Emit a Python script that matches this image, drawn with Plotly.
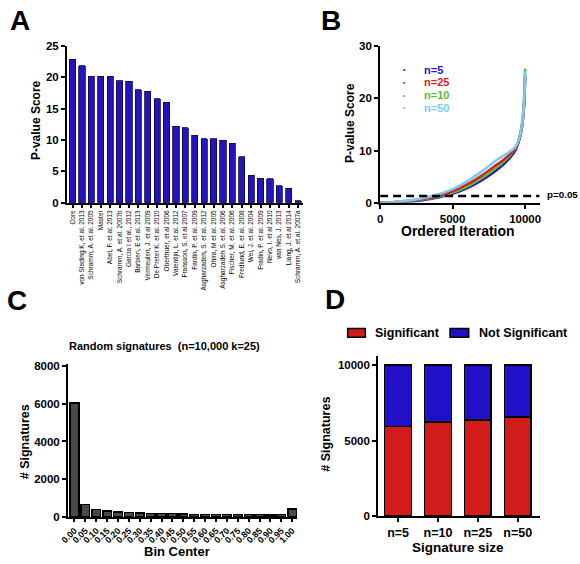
import plotly.graph_objects as go

W, H = 580, 564
def px(x): return x / W
def py(y): return 1 - y / H

FONT = "Arial, 'Liberation Sans', sans-serif"

# ---------------- Panel A data ----------------
studies = ["Core", "von Steding K, et al. 2013", "Schramm, A. et al. 2005", "Master",
           "Abel, F. et al. 2013", "Schramm, A. et al. 2007b", "Garcia I et al., 2012",
           "Barbieri, E et al. 2013", "Vermeulen, J. et al 2009", "De Preter K. et al. 2010",
           "Oberthuer, et al 2006", "Valentijn, L. et al. 2012", "Fransson, S. et al 2007",
           "Fardin, P. et al. 2009", "Asgharzadeh, S. et al. 2012", "Ohira, M et al. 2005",
           "Asgharzadeh S. et al. 2006", "Fischer, M. et al. 2006", "Fredlund, E. et al. 2008",
           "Wei, J. et al. 2004", "Fradin, P. et al. 2009", "Nevo, I. et al 2010",
           "van Nes, J. 2013", "Liang, J. et al 2014", "Schramm, A. et al. 2007a"]
study_scores = [22.9, 21.9, 20.2, 20.2, 20.2, 19.5, 19.4, 18.0, 17.8, 16.6, 16.0, 12.2, 12.0,
                10.8, 10.2, 10.2, 10.0, 9.5, 7.3, 4.4, 3.9, 3.8, 2.7, 2.3, 0.3]

# ---------------- Panel B data ----------------
b_iter = [0, 1000, 2000, 3000, 4000, 5000, 6000, 7000, 8000, 8500, 9000, 9300, 9500,
          9700, 9850, 9950, 10000]
b_n5 = [0, 0.1, 0.25, 0.55, 1.0, 1.7, 2.8, 4.3, 6.2, 7.3, 8.8, 9.9, 11.2, 13.2, 16.0, 20.0, 24.5]
b_n25 = [0, 0.12, 0.35, 0.75, 1.3, 2.2, 3.5, 5.2, 7.2, 8.2, 9.4, 10.3, 11.4, 13.3, 16.0, 20.0, 24.0]
b_n10 = [0, 0.1, 0.3, 0.65, 1.15, 1.9, 3.1, 4.7, 6.7, 7.8, 9.2, 10.3, 11.6, 13.8, 16.8, 21.0, 25.7]
b_n50 = [0, 0.15, 0.45, 0.9, 1.6, 2.6, 4.1, 6.0, 8.1, 9.0, 9.9, 10.6, 11.6, 13.5, 16.3, 20.5, 25.2]
p_threshold = 1.3

# ---------------- Panel C data ----------------
bin_centers = [0.00, 0.05, 0.10, 0.15, 0.20, 0.25, 0.30, 0.35, 0.40, 0.45, 0.50,
               0.55, 0.60, 0.65, 0.70, 0.75, 0.80, 0.85, 0.90, 0.95, 1.00]
bin_labels = ["0.00", "0.05", "0.10", "0.15", "0.20", "0.25", "0.30", "0.35", "0.40", "0.45",
              "0.50", "0.55", "0.60", "0.65", "0.70", "0.75", "0.80", "0.85", "0.90", "0.95", "1.00"]
bin_counts = [6050, 650, 380, 310, 250, 240, 200, 170, 180, 170, 160,
              140, 130, 130, 130, 130, 120, 130, 100, 140, 420]

# ---------------- Panel D data ----------------
sig_sizes = ["n=5", "n=10", "n=25", "n=50"]
significant = [5920, 6230, 6360, 6560]
not_significant = [4080, 3770, 3640, 3440]

fig = go.Figure()

# Panel A
fig.add_trace(go.Bar(x=studies, y=study_scores, xaxis="x", yaxis="y", width=0.66,
                     marker=dict(color="#2414c0", line=dict(color="#0a0a40", width=0.8)),
                     showlegend=False))

# Panel B
b_series = [("n=5", b_n5, "#2418c4"), ("n=10", b_n10, "#5cc02a"),
            ("n=25", b_n25, "#d42222"), ("n=50", b_n50, "#7ccaf0")]
for name, vals, col in b_series:
    fig.add_trace(go.Scatter(x=b_iter, y=vals, xaxis="x2", yaxis="y2", mode="lines",
                             line=dict(color=col, width=2.6, shape="spline", smoothing=0.6),
                             name=name, showlegend=False))
fig.add_trace(go.Scatter(x=[0, 11000], y=[p_threshold, p_threshold], xaxis="x2", yaxis="y2",
                         mode="lines", line=dict(color="black", width=2.5, dash="8px,5px"),
                         showlegend=False))

# Panel C
fig.add_trace(go.Bar(x=bin_centers, y=bin_counts, xaxis="x3", yaxis="y3", width=0.04,
                     marker=dict(color="#4a4a4a", line=dict(color="black", width=1.5)),
                     showlegend=False))

# Panel D
fig.add_trace(go.Bar(x=sig_sizes, y=significant, xaxis="x4", yaxis="y4", width=0.67,
                     name="Significant",
                     marker=dict(color="#d21c1c", line=dict(color="black", width=1.5)),
                     showlegend=False))
fig.add_trace(go.Bar(x=sig_sizes, y=not_significant, xaxis="x4", yaxis="y4", width=0.67,
                     name="Not Significant",
                     marker=dict(color="#2010c8", line=dict(color="black", width=1.5)),
                     showlegend=False))

axis_common = dict(showline=True, linecolor="black", linewidth=2, ticks="outside",
                   ticklen=4, tickwidth=2, tickcolor="black", showgrid=False,
                   zeroline=False, fixedrange=True)
bold_tick = dict(family=FONT, size=11.5, color="black", weight="bold")

fig.update_layout(
    width=W, height=H, margin=dict(l=0, r=0, t=0, b=0),
    paper_bgcolor="white", plot_bgcolor="white",
    barmode="stack", font=dict(family=FONT, color="black"),
    xaxis=dict(axis_common, domain=[px(60), px(300)], type="category", range=[-0.58, 24.55],
               tickangle=-90, tickfont=dict(family=FONT, size=6.5, color="black"),
               ticklen=3, tickwidth=1.5, anchor="y"),
    yaxis=dict(axis_common, domain=[py(201), py(41)], range=[0, 25], dtick=5,
               tickfont=bold_tick, anchor="x"),
    xaxis2=dict(axis_common, domain=[px(378), px(540)], range=[0, 11000],
                tickvals=[0, 5000, 10000], tickformat="d", tickfont=bold_tick, anchor="y2"),
    yaxis2=dict(axis_common, domain=[py(201), py(41)], range=[0, 30], dtick=10,
                tickfont=bold_tick, anchor="x2"),
    xaxis3=dict(axis_common, domain=[px(61), px(294)], range=[-0.0295, 1.024],
                tickvals=bin_centers, ticktext=bin_labels, tickangle=-45,
                tickfont=dict(family=FONT, size=9, color="black", weight="bold"),
                ticklen=3, tickwidth=1.5, anchor="y3"),
    yaxis3=dict(axis_common, domain=[py(522), py(366)], range=[0, 8100],
                tickvals=[0, 2000, 4000, 6000, 8000], tickformat="d",
                tickfont=bold_tick, anchor="x3"),
    xaxis4=dict(axis_common, domain=[px(376), px(540)], type="category", range=[-0.5, 3.55],
                tickfont=dict(family=FONT, size=12.5, color="black", weight="bold"), anchor="y4"),
    yaxis4=dict(axis_common, domain=[py(521), py(358)], range=[0, 10580],
                tickvals=[0, 5000, 10000], tickformat="d", tickfont=bold_tick, anchor="x4"),
)

ann = []
def text(x, y, s, size, color="black", bold=True, angle=0, xanchor="center"):
    ann.append(dict(x=px(x), y=py(y), xref="paper", yref="paper", text=s, showarrow=False,
                    textangle=angle, xanchor=xanchor, yanchor="middle", borderpad=0,
                    font=dict(family=FONT, size=size, color=color,
                              weight="bold" if bold else "normal")))

# panel letters
text(12, 15, "A", 28)
text(328, 15, "B", 28)
text(9, 301, "C", 28)
text(332, 300, "D", 28)

# axis titles
text(28, 117, "P-value Score", 12, angle=-90)
text(348, 120, "P-value Score", 12, angle=-90)
text(457, 230, "Ordered Iteration", 14)
text(17, 445, "# Signatures", 12.5, angle=-90)
text(172, 557, "Bin Center", 13)
text(159, 347, "Random signatures  (n=10,000 k=25)", 11)
text(323, 437, "# Signatures", 12.5, angle=-90)
text(457, 553, "Signature size", 13.5)

# B legend
b_legend = [("n=5", "#2418c4", 65), ("n=25", "#d42222", 78), ("n=10", "#5cc02a", 91),
            ("n=50", "#7ccaf0", 104)]
for lab, col, yy in b_legend:
    text(403, yy, "•", 7, color=col)
    text(422, yy, lab, 11, color=col, xanchor="left")
text(546, 193, "p=0.05", 9.8, xanchor="left")

# D legend
text(372, 334, "Significant", 12.5, xanchor="left")
text(477, 334, "Not Significant", 12.5, xanchor="left")

shapes = [
    dict(type="rect", xref="paper", yref="paper", x0=px(345), x1=px(363), y0=py(338.5), y1=py(329.5),
         fillcolor="#d21c1c", line=dict(color="black", width=1.5)),
    dict(type="rect", xref="paper", yref="paper", x0=px(449), x1=px(468), y0=py(338.5), y1=py(329.5),
         fillcolor="#2010c8", line=dict(color="black", width=1.5)),
]

fig.update_layout(annotations=ann, shapes=shapes)
fig.write_html("out.html", config={"displayModeBar": False},
               post_script="document.body.style.margin='0';document.body.style.overflow='hidden';")
